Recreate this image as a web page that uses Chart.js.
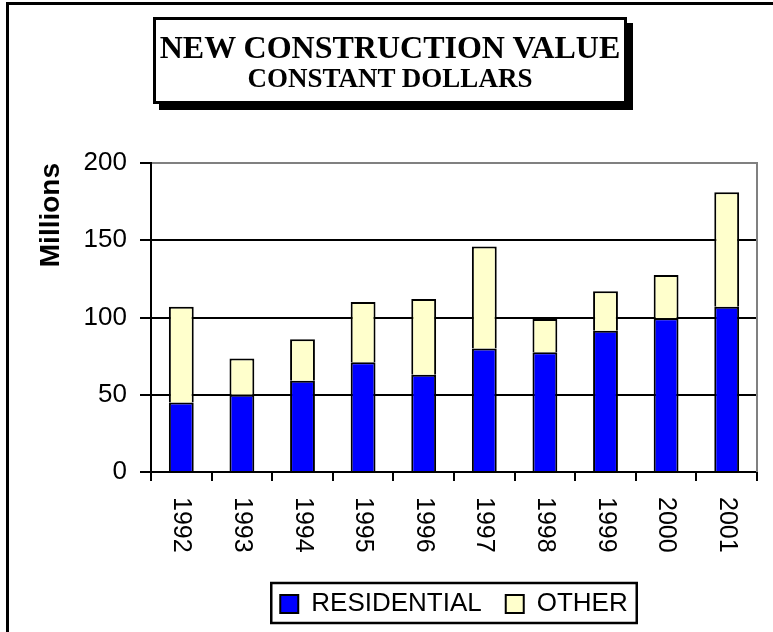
<!DOCTYPE html>
<html>
<head>
<meta charset="utf-8">
<script src="https://cdn.jsdelivr.net/npm/chart.js@4/dist/chart.umd.min.js"></script>
<style>
html,body{margin:0;padding:0;background:#fff;}
body{width:773px;height:632px;position:relative;overflow:hidden;}
#frame{position:absolute;left:6px;top:2px;width:820px;height:700px;border-left:3px solid #000;border-top:3px solid #000;}
#c{position:absolute;left:0;top:0;}
#title{position:absolute;left:153px;top:17px;width:474px;height:87px;box-sizing:border-box;border:3px solid #000;background:#fff;box-shadow:6px 6px 0 #000;font-family:"Liberation Serif","Times New Roman",serif;font-weight:bold;color:#000;text-align:center;}
#t1{position:absolute;left:0;right:0;top:11px;font-size:32px;line-height:32px;white-space:nowrap;}
#t2{position:absolute;left:0;right:0;top:45px;font-size:27px;line-height:27px;white-space:nowrap;}
</style>
</head>
<body>
<div id="frame"></div>
<canvas id="c" width="773" height="632"></canvas>
<div id="title"><div id="t1">NEW CONSTRUCTION VALUE</div><div id="t2">CONSTANT DOLLARS</div></div>
<script>
const years = ['1992','1993','1994','1995','1996','1997','1998','1999','2000','2001'];
const residential = [45, 50, 59, 71, 63, 80, 77.5, 91.5, 99.5, 107];
const other = [62, 23.5, 27, 39, 49, 66, 21.5, 25.5, 28, 74];
const seriesNames = ['RESIDENTIAL', 'OTHER'];
const yTickValues = [0, 50, 100, 150, 200];

const SANS = 'Arial, "Liberation Sans", sans-serif';

const decor = {
  id: 'decor',
  afterLayout(chart) {
    const lg = chart.legend, ca = chart.chartArea;
    if (lg && ca) { lg.left = ca.left; lg.right = ca.right; lg.width = ca.right - ca.left; }
  },
  beforeDatasetsDraw(chart) {
    const {ctx, chartArea: ca} = chart;
    ctx.save();
    ctx.strokeStyle = '#808080';
    ctx.lineWidth = 2;
    ctx.beginPath();
    ctx.moveTo(ca.right, ca.top - 1);
    ctx.lineTo(ca.right, ca.bottom);
    ctx.stroke();
    ctx.restore();
  },
  afterDraw(chart) {
    const {ctx, chartArea: ca, scales: {x}} = chart;
    ctx.save();
    ctx.font = '25px ' + SANS;
    ctx.fillStyle = '#000';
    ctx.textAlign = 'left';
    ctx.textBaseline = 'middle';
    years.forEach((lab, i) => {
      const px = x.getPixelForValue(i);
      ctx.save();
      ctx.translate(px, ca.bottom + 25);
      ctx.rotate(Math.PI / 2);
      ctx.fillText(lab, 0, 0);
      ctx.restore();
    });
    const hb = chart.legend.legendHitBoxes;
    if (hb && hb.length) {
      let l = Infinity, r = -Infinity, t = Infinity, b = -Infinity;
      hb.forEach(h => { l = Math.min(l, h.left); r = Math.max(r, h.left + h.width); t = Math.min(t, h.top); b = Math.max(b, h.top + h.height); });
      ctx.strokeStyle = '#000';
      ctx.lineWidth = 2.5;
      ctx.strokeRect(l - 9, t - 8, (r - l) + 18, (b - t) + 14);
    }
    ctx.restore();
  }
};

new Chart(document.getElementById('c'), {
  type: 'bar',
  data: {
    labels: years,
    datasets: [
      { label: seriesNames[0], data: residential, backgroundColor: '#0000FF', borderColor: '#000', borderWidth: 2 },
      { label: seriesNames[1], data: other, backgroundColor: '#FFFFCC', borderColor: '#000', borderWidth: 2 }
    ]
  },
  options: {
    responsive: false,
    animation: false,
    devicePixelRatio: 1,
    categoryPercentage: 1,
    barPercentage: 0.41,
    layout: { padding: { left: 0, right: 16, top: 163, bottom: 5 } },
    plugins: {
      legend: {
        position: 'bottom',
        labels: { font: { family: SANS, size: 26 }, color: '#000', boxWidth: 18, boxHeight: 18, padding: 24 }
      },
      tooltip: { enabled: false }
    },
    scales: {
      x: {
        stacked: true,
        grid: { offset: true, drawOnChartArea: false, drawTicks: true, tickLength: 9, color: '#000', lineWidth: 2 },
        border: { color: '#000', width: 2 },
        ticks: { display: false },
        afterFit(s) { s.height = 95; }
      },
      y: {
        stacked: true,
        min: 0, max: 200,
        afterBuildTicks(s) { s.ticks = yTickValues.map(v => ({ value: v })); },
        ticks: { color: '#000', font: { family: SANS, size: 26 }, padding: 13 },
        grid: { color: c => (c.tick && c.tick.value === 200) ? '#808080' : '#000', lineWidth: 2, tickLength: 11, tickColor: '#000' },
        border: { color: '#000', width: 2 },
        title: { display: true, text: 'Millions', align: 'end', color: '#000', font: { family: SANS, size: 28, weight: 'bold' }, padding: { top: 34, bottom: 0 } },
        afterFit(s) { s.width = 151; }
      }
    }
  },
  plugins: [decor]
});
</script>
</body>
</html>
